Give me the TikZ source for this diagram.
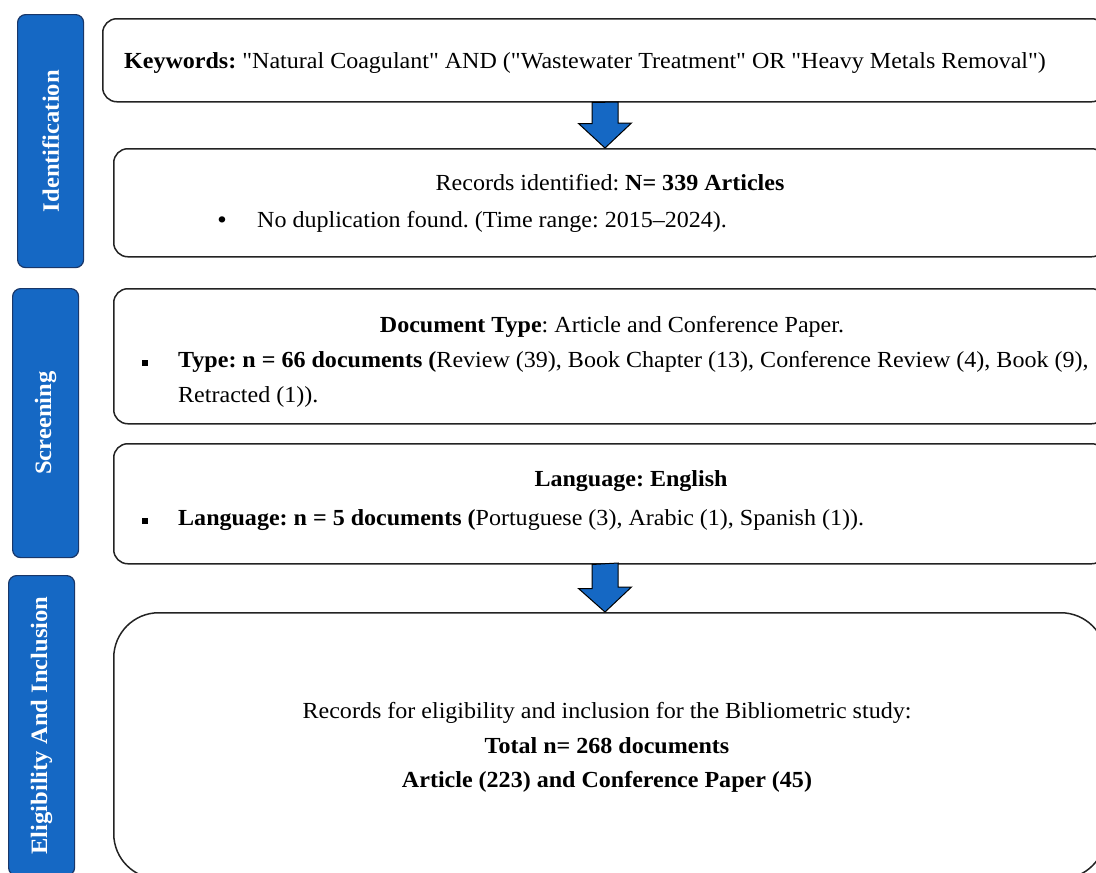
\documentclass[tikz,border=0pt]{standalone}
\usepackage{fontspec}
\setmainfont[FakeStretch=1.045,Ligatures=TeXOff]{Liberation Serif}
\usetikzlibrary{calc}
\definecolor{barblue}{RGB}{21,104,196}
\definecolor{barline}{RGB}{25,55,105}
\definecolor{boxline}{RGB}{35,35,35}
\frenchspacing
\begin{document}
\begin{tikzpicture}[x=1pt,y=-1pt,
  box/.style={draw=boxline,line width=1.5pt,rounded corners=14pt,anchor=north west,inner sep=0pt,minimum width=992pt},
  bar/.style={draw=barline,fill=barblue,line width=1.2pt,rounded corners=8pt,anchor=north west,inner sep=0pt,minimum width=66pt,text=white,font=\fontsize{23.5}{26}\selectfont\bfseries},
  txt/.style={inner sep=0pt,font=\fontsize{23}{27}\selectfont},
  blk/.style={draw=black,fill=barblue,line width=1pt,line join=miter}
]
\clip (0,0) rectangle (1096,873);
\fill[white] (0,0) rectangle (1096,873);

% side bars
\node[bar,minimum height=253pt] (b1) at (17,14) {\rotatebox{90}{Identification}};
\node[bar,minimum height=269pt] (b2) at (12,288) {\rotatebox{90}{Screening}};
\node[bar,minimum height=300pt] (b3) at (8,575) {\rotatebox{90}{Eligibility And Inclusion}};

% boxes
\node[box,minimum width=1003pt,minimum height=83pt] (kw) at (102,18) {};
\node[box,minimum height=108pt] (rec) at (113,148) {};
\node[box,minimum height=135pt] (doc) at (113,288) {};
\node[box,minimum height=120pt] (lang) at (113,443) {};
\node[box,minimum height=266pt,rounded corners=45pt] (fin) at (113,612) {};

% texts
\node[txt,anchor=base west] (kwt) at (124,68) {\textbf{Keywords:} "Natural Coagulant" AND ("Wastewater Treatment" OR "Heavy Metals Removal")};

\node[txt,anchor=base] (rect) at (610,190) {Records identified: \textbf{N= 339 Articles}};
\node[txt,anchor=base] (recb) at (222,227) {\textbf{•}};
\node[txt,anchor=base west] (recl) at (257,227) {No duplication found. (Time range: 2015–2024).};

\node[txt,anchor=base] (doct) at (612,332) {\textbf{Document Type}: Article and Conference Paper.};
\node[txt,anchor=base] (docb) at (145,367) {\rule[1pt]{6pt}{6pt}};
\node[txt,anchor=base west] (docl1) at (178,367) {\textbf{Type: n = 66 documents (}Review (39), Book Chapter (13), Conference Review (4), Book (9),};
\node[txt,anchor=base west] (docl2) at (178,402) {Retracted (1)).};

\node[txt,anchor=base] (langt) at (631,486) {\textbf{Language: English}};
\node[txt,anchor=base] (langb) at (145,525) {\rule[1pt]{6pt}{6pt}};
\node[txt,anchor=base west] (langl) at (178,525) {\textbf{Language: n = 5 documents (}Portuguese (3), Arabic (1), Spanish (1)).};

\node[txt,anchor=base] (fin1) at (607,718) {Records for eligibility and inclusion for the Bibliometric study:};
\node[txt,anchor=base] (fin2) at (607,753) {\textbf{Total n= 268 documents}};
\node[txt,anchor=base] (fin3) at (607,787) {\textbf{Article (223) and Conference Paper (45)}};

% block arrows
\coordinate (ax) at (605,0);
\coordinate (a1t) at (kw.south -| ax);
\coordinate (a1b) at (rec.north -| ax);
\draw[blk] (a1t) ++(-13,0) -- ++(0,21) -- ++(-13.5,0) -- (a1b) -- ++(26.5,-25) -- ++(-13.5,0) -- ++(0,-21) -- cycle;
\coordinate (a2t) at (lang.south -| ax);
\coordinate (a2b) at (fin.north -| ax);
\draw[blk] (a2t) ++(-13,0) -- ++(0,24) -- ++(-13.5,0) -- (a2b) -- ++(26.5,-25) -- ++(-13.5,0) -- ++(0,-24) -- cycle;
\end{tikzpicture}
\end{document}
